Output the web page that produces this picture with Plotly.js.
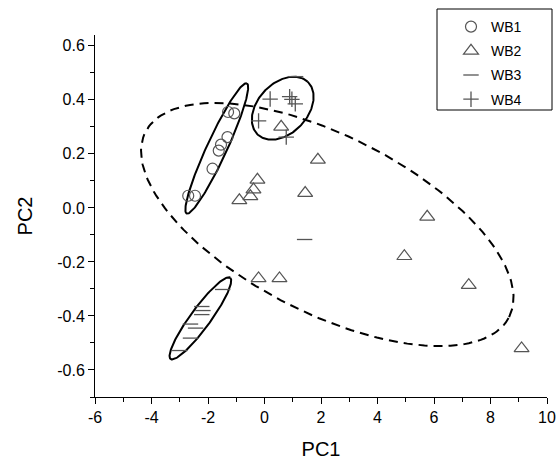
<!DOCTYPE html>
<html>
<head>
<meta charset="utf-8">
<script src="https://cdn.plot.ly/plotly-3.0.1.min.js"></script>
<style>html,body{margin:0;padding:0;background:#fff}#chart{width:558px;height:465px}</style>
</head>
<body>
<div id="chart"></div>
<script>
// Scores
const wb1X = [-1.29, -1.07, -1.31, -1.54, -1.62, -1.84, -2.70, -2.46];
const wb1Y = [0.355, 0.350, 0.262, 0.234, 0.212, 0.145, 0.045, 0.045];

const wb2X = [0.59, 1.89, -0.25, -0.39, -0.50, -0.89, 1.44, 5.76, 4.95, 7.23, 9.10, -0.21, 0.53];
const wb2Y = [0.300, 0.178, 0.104, 0.068, 0.043, 0.028, 0.055, -0.033, -0.179, -0.286, -0.520, -0.261, -0.261];

const wb3X = [-1.48, -2.22, -2.18, -2.22, -2.62, -2.44, -2.62, -3.00, 1.42, 1.10];
const wb3Y = [-0.302, -0.365, -0.380, -0.395, -0.430, -0.445, -0.482, -0.528, -0.117, 0.486];

const wb4X = [0.20, 0.89, 0.97, 1.09, -0.21, 0.77];
const wb4Y = [0.403, 0.412, 0.402, 0.385, 0.322, 0.262];

// Confidence ellipses: [centreX, centreY, axis1X, axis1Y, axis2X, axis2Y]
const ellipseWB1 = [-1.69, 0.220, 1.064, 0.241, 0.322, -0.0154];
const ellipseWB3 = [-2.27, -0.409, 1.053, 0.1506, 0.2865, -0.0217];
const ellipseWB4 = [0.645, 0.369, 0.880, 0.0982, -0.649, 0.0629];
const ellipseAll = [2.223, -0.0616, 6.436, -0.3428, 1.434, 0.2916];

const seriesNames = ['WB1', 'WB2', 'WB3', 'WB4'];

// Tick labels (plain hyphen minus as in the original)
const xTickVals = [-6, -4, -2, 0, 2, 4, 6, 8, 10];
const xTickText = ['-6', '-4', '-2', '0', '2', '4', '6', '8', '10'];
const yTickVals = [-0.6, -0.4, -0.2, 0.0, 0.2, 0.4, 0.6];
const yTickText = ['-0.6', '-0.4', '-0.2', '0.0', '0.2', '0.4', '0.6'];

function ellipsePath(p) {
  const xs = [], ys = [];
  const n = 180;
  for (let i = 0; i <= n; i++) {
    const t = 2 * Math.PI * i / n;
    xs.push(p[0] + p[2] * Math.cos(t) + p[4] * Math.sin(t));
    ys.push(p[1] + p[3] * Math.cos(t) + p[5] * Math.sin(t));
  }
  return {xs, ys};
}

const mk = '#555555';
const traces = [];
[ellipseWB1, ellipseWB3, ellipseWB4].forEach(function (p) {
  const e = ellipsePath(p);
  traces.push({x: e.xs, y: e.ys, mode: 'lines', showlegend: false, hoverinfo: 'skip',
    line: {color: '#000', width: 2}});
});
const ea = ellipsePath(ellipseAll);
traces.push({x: ea.xs, y: ea.ys, mode: 'lines', showlegend: false, hoverinfo: 'skip',
  line: {color: '#000', width: 2, dash: '9px,6px'}});

traces.push({x: wb1X, y: wb1Y, name: seriesNames[0], legendgroup: 'g1', mode: 'markers', type: 'scatter',
  marker: {symbol: 'circle-open', size: 11, color: mk, line: {width: 1.2, color: mk}}});
traces.push({x: wb2X, y: wb2Y, name: seriesNames[1], legendgroup: 'g2', mode: 'markers', type: 'scatter',
  marker: {symbol: 'triangle-up-open', size: 13, color: mk, line: {width: 1.2, color: mk}}});
traces.push({x: wb3X, y: wb3Y, name: seriesNames[2], legendgroup: 'g3', mode: 'markers', type: 'scatter',
  marker: {symbol: 'line-ew-open', size: 11, color: mk, line: {width: 1.3, color: mk}}});
traces.push({x: wb4X, y: wb4Y, name: seriesNames[3], legendgroup: 'g4', mode: 'markers', type: 'scatter',
  marker: {symbol: 'cross-thin-open', size: 11, color: mk, line: {width: 1.3, color: mk}}});

const fontFam = 'Liberation Sans, Arial, sans-serif';
// plot area: left 95, right 547, top 35, bottom 397
const layout = {
  width: 558, height: 465,
  margin: {l: 95, r: 11, t: 35, b: 68, autoexpand: false},
  paper_bgcolor: '#fff', plot_bgcolor: '#fff',
  font: {family: fontFam, color: '#000'},
  showlegend: true,
  legend: {
    xref: 'paper', yref: 'paper',
    x: (451 - 95) / 452, y: (397 - 11) / 362, xanchor: 'left', yanchor: 'top',
    borderwidth: 0, bgcolor: 'rgba(0,0,0,0)',
    font: {size: 14, family: fontFam}, tracegroupgap: 3
  },
  shapes: [{
    type: 'rect', xref: 'paper', yref: 'paper', layer: 'below',
    x0: (437 - 95) / 452, x1: (552 - 95) / 452,
    y0: (397 - 110) / 362, y1: (397 - 9) / 362,
    line: {color: '#000', width: 1}, fillcolor: '#fff'
  }],
  xaxis: {
    range: [-6, 10], tickmode: 'array', tickvals: xTickVals, ticktext: xTickText,
    showgrid: false, zeroline: false, showline: true, linecolor: '#000', linewidth: 1,
    ticks: 'outside', ticklen: 6, tickcolor: '#000', tickwidth: 1,
    minor: {tickmode: 'linear', tick0: 0, dtick: 1, ticks: 'outside', ticklen: 4, tickcolor: '#000', tickwidth: 1, showgrid: false},
    tickfont: {size: 16},
    title: {text: 'PC1', font: {size: 20}, standoff: 16}
  },
  yaxis: {
    range: [-0.7, 0.64], tickmode: 'array', tickvals: yTickVals, ticktext: yTickText,
    showgrid: false, zeroline: false, showline: true, linecolor: '#000', linewidth: 1,
    ticks: 'outside', ticklen: 6, tickcolor: '#000', tickwidth: 1,
    minor: {tickmode: 'linear', tick0: 0, dtick: 0.1, ticks: 'outside', ticklen: 4, tickcolor: '#000', tickwidth: 1, showgrid: false},
    tickfont: {size: 16},
    title: {text: 'PC2', font: {size: 20}, standoff: 19}
  }
};

Plotly.newPlot('chart', traces, layout, {displayModeBar: false, staticPlot: true});
</script>
</body>
</html>
